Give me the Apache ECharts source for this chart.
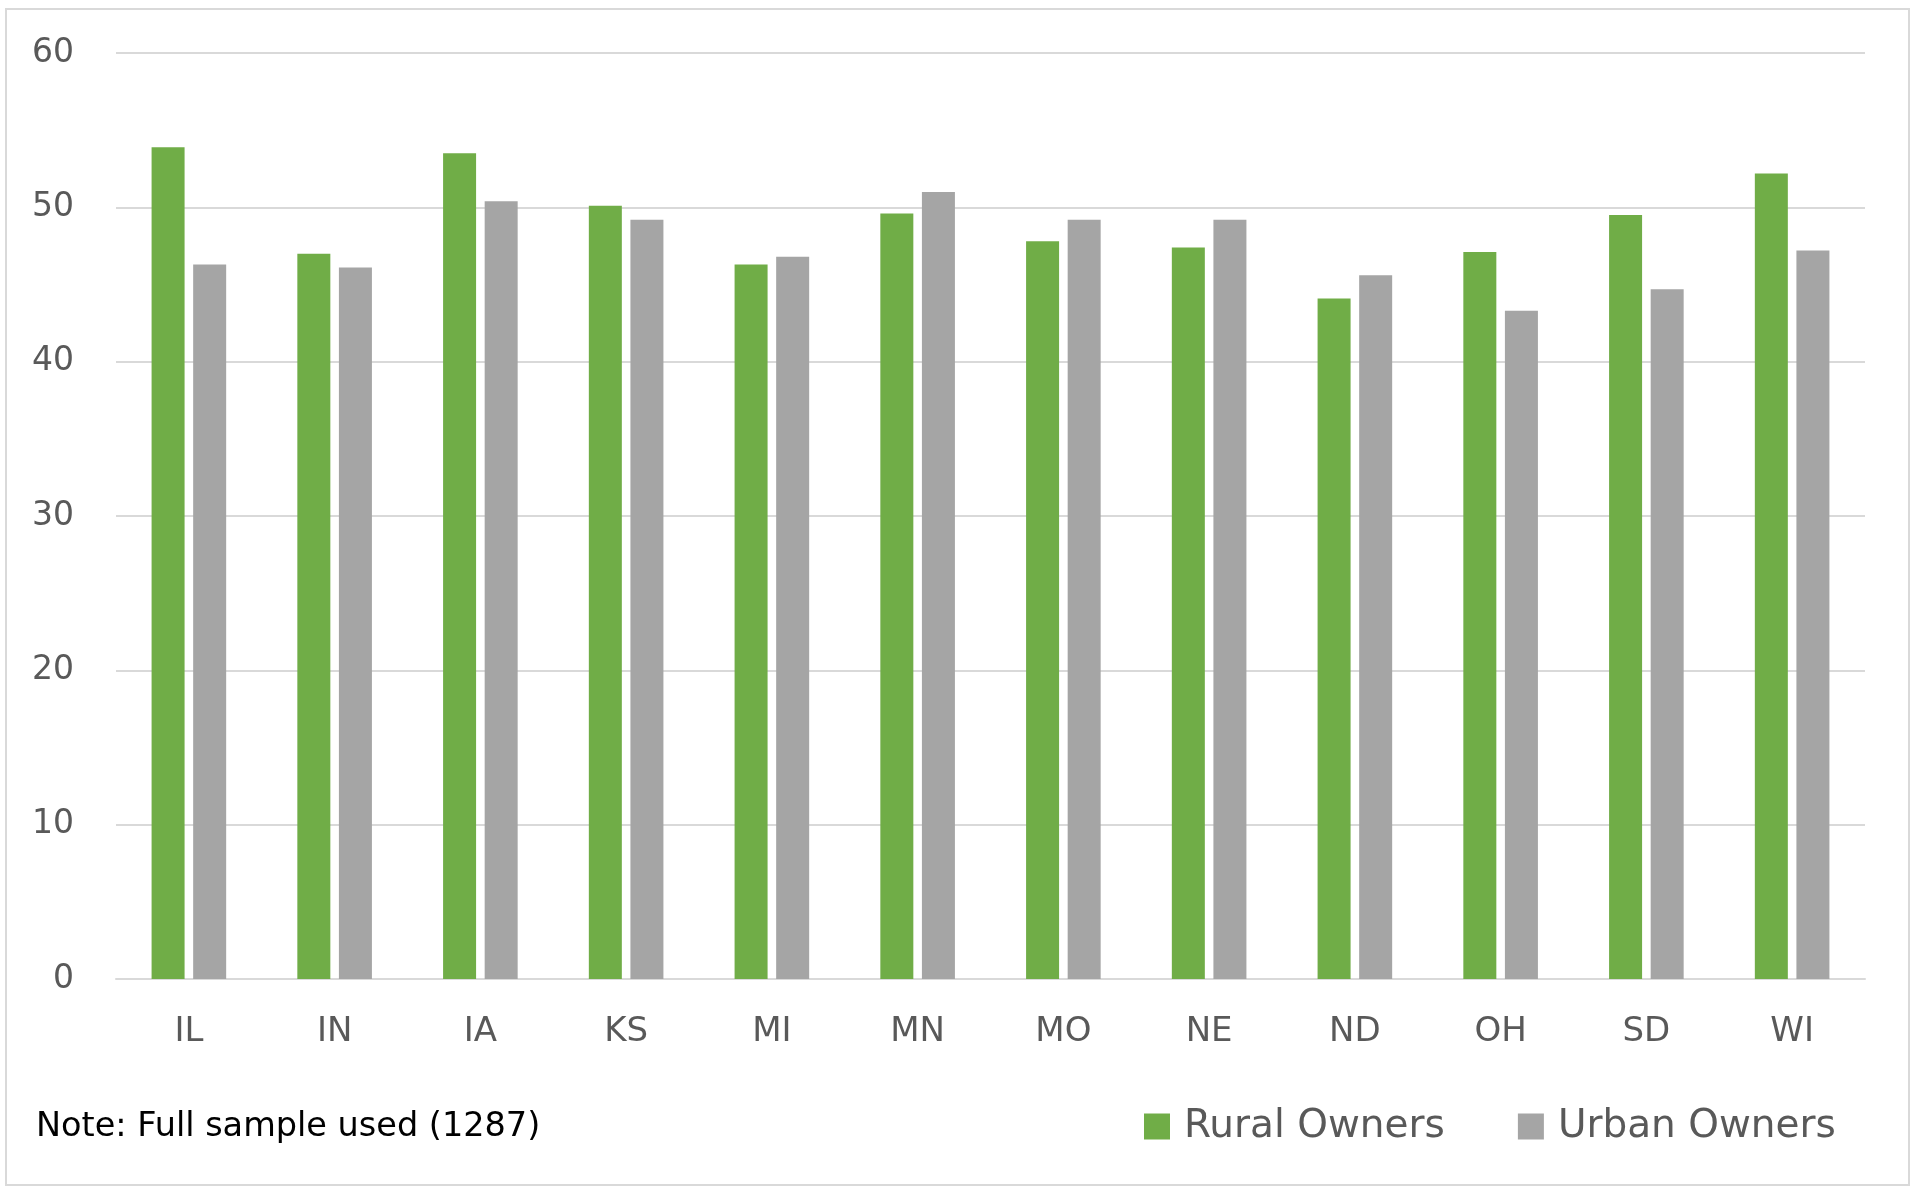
<!DOCTYPE html>
<html>
<head>
<meta charset="utf-8">
<script src="https://cdn.jsdelivr.net/npm/echarts@6/dist/echarts.min.js"></script>
<style>
  html, body { margin: 0; padding: 0; background: #fff; }
  #chart { width: 1920px; height: 1194px; }
</style>
</head>
<body>
<div id="chart"></div>
<script>
// states along the x axis
var states = ['IL', 'IN', 'IA', 'KS', 'MI', 'MN', 'MO', 'NE', 'ND', 'OH', 'SD', 'WI'];
// values
var ruralOwners = [53.9, 47.0, 53.5, 50.1, 46.3, 49.6, 47.8, 47.4, 44.1, 47.1, 49.5, 52.2];
var urbanOwners = [46.3, 46.1, 50.4, 49.2, 46.8, 51.0, 49.2, 49.2, 45.6, 43.3, 44.7, 47.2];
var seriesNames = ['Rural Owners', 'Urban Owners'];
var noteText = 'Note: Full sample used (1287)';

var FONT = 'DejaVu Sans';
var dom = document.getElementById('chart');
var myChart = echarts.init(dom, null, { renderer: 'canvas' });

var option = {
    animation: false,
    backgroundColor: '#ffffff',
    grid: {
        left: 116,
        right: 55,
        top: 53,
        bottom: 215
    },
    legend: {
        data: seriesNames,
        left: 1144,
        top: 1107,
        padding: 0,
        itemWidth: 26,
        itemHeight: 26,
        itemGap: 73,
        icon: 'rect',
        textStyle: {
            fontFamily: FONT,
            fontSize: 39,
            color: '#595959',
            padding: [0, 0, 0, 9]
        }
    },
    xAxis: {
        type: 'category',
        data: states,
        axisLine: { show: true, lineStyle: { color: '#d9d9d9', width: 2 } },
        axisTick: { show: false },
        axisLabel: {
            margin: 36,
            fontFamily: FONT,
            fontSize: 34,
            color: '#595959'
        }
    },
    yAxis: {
        type: 'value',
        min: 0,
        max: 60,
        interval: 10,
        axisLine: { show: false },
        axisTick: { show: false },
        splitLine: { lineStyle: { color: '#d9d9d9', width: 2 } },
        axisLabel: {
            margin: 42,
            fontFamily: FONT,
            fontSize: 33,
            color: '#595959'
        }
    },
    series: [
        {
            name: seriesNames[0],
            type: 'bar',
            data: ruralOwners,
            barWidth: 33,
            barGap: '26%',
            itemStyle: { color: '#70ad47' }
        },
        {
            name: seriesNames[1],
            type: 'bar',
            data: urbanOwners,
            barWidth: 33,
            barGap: '26%',
            itemStyle: { color: '#a5a5a5' }
        }
    ],
    graphic: [
        {
            type: 'rect',
            shape: { x: 6, y: 9, width: 1903, height: 1176 },
            style: { fill: 'none', stroke: '#d9d9d9', lineWidth: 2 },
            silent: true
        },
        {
            type: 'text',
            x: 36,
            y: 1127,
            style: {
                text: noteText,
                fontFamily: FONT,
                fontSize: 33.5,
                fill: '#000000',
                verticalAlign: 'middle'
            }
        }
    ]
};

if (option && typeof option === 'object') {
    myChart.setOption(option);
}
</script>
</body>
</html>
